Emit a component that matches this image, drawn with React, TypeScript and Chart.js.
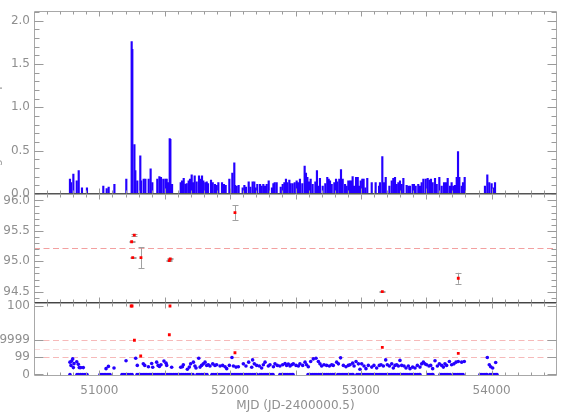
import React, { useEffect, useRef } from 'react';
import { Chart, registerables } from 'chart.js';

Chart.register(...registerables);

// ---------- axes ----------
const X_MIN = 50500;
const X_MAX = 54500;
const X_TICKS = [51000, 52000, 53000, 54000];
const X_TITLE = 'MJD (JD-2400000.5)';
const TOP_TITLE = 'Integrated Flux (ph cm\u207B\u00B2 s\u207B\u00B9)';

// ---------- top panel: flux bars ----------
const FLUX_TICKS = [0, 0.5, 1.0, 1.5, 2.0];
const FLUX_MJD = [
  50775, 50783, 50801, 50827, 50842, 50867, 50905,
  51030, 51056, 51071, 51115, 51206, 51247, 51252, 51268, 51275, 51290, 51313, 51319, 51339, 51352,
  51377, 51392, 51405, 51443, 51459, 51471, 51489, 51505, 51515, 51525, 51538, 51543, 51556,
  51622, 51632, 51645, 51658, 51668, 51683, 51693, 51706, 51716, 51729, 51744, 51762, 51772, 51785,
  51795, 51810, 51821, 51831, 51854, 51867, 51884, 51897, 51910, 51938, 51953, 51966, 51994, 52017,
  52032, 52037, 52050, 52065, 52096, 52109, 52121, 52142, 52155, 52172, 52185, 52195, 52208, 52229,
  52241, 52254, 52267, 52280, 52295, 52320, 52331, 52341, 52356, 52387, 52402, 52415, 52427, 52438,
  52453, 52463, 52478, 52494, 52509, 52519, 52534, 52552, 52570, 52580, 52591, 52603, 52616, 52631,
  52652, 52664, 52677, 52687, 52708, 52728, 52743, 52754, 52764, 52777, 52797, 52810, 52820, 52835,
  52848, 52861, 52879, 52891, 52904, 52917, 52930, 52937, 52948, 52963, 52976, 52986, 52999, 53011,
  53021, 53034, 53049, 53083, 53113, 53139, 53146, 53164, 53177, 53190, 53218, 53236, 53248, 53261,
  53274, 53287, 53299, 53312, 53325, 53350, 53363, 53376, 53396, 53406, 53419, 53439, 53452, 53465,
  53478, 53496, 53511, 53524, 53536, 53549, 53567, 53580, 53600, 53618, 53636, 53651, 53664, 53682,
  53694, 53707, 53720, 53733, 53743, 53753, 53771, 53781, 53794, 53949, 53967, 53982, 54000, 54013,
  54026,
];
const FLUX_VAL = [
  0.17, 0.13, 0.23, 0.15, 0.27, 0.07, 0.07,
  0.09, 0.06, 0.08, 0.11, 0.17, 1.76, 1.67, 0.57, 0.27, 0.15, 0.44, 0.15, 0.17, 0.17,
  0.17, 0.29, 0.13, 0.17, 0.20, 0.19, 0.17, 0.17, 0.17, 0.13, 0.64, 0.63, 0.11,
  0.13, 0.15, 0.18, 0.11, 0.12, 0.15, 0.17, 0.22, 0.13, 0.21, 0.14, 0.21, 0.17, 0.21,
  0.15, 0.13, 0.14, 0.12, 0.16, 0.13, 0.11, 0.10, 0.13, 0.13, 0.11, 0.10, 0.17, 0.24,
  0.36, 0.10, 0.09, 0.10, 0.07, 0.10, 0.08, 0.14, 0.08, 0.14, 0.14, 0.07, 0.11, 0.11,
  0.09, 0.11, 0.09, 0.11, 0.15, 0.07, 0.12, 0.13, 0.13, 0.08, 0.11, 0.13, 0.17, 0.13,
  0.16, 0.12, 0.12, 0.13, 0.15, 0.13, 0.17, 0.12, 0.32, 0.24, 0.19, 0.14, 0.17, 0.11,
  0.14, 0.27, 0.09, 0.18, 0.09, 0.12, 0.19, 0.17, 0.15, 0.11, 0.13, 0.17, 0.14, 0.17,
  0.28, 0.17, 0.11, 0.09, 0.15, 0.15, 0.15, 0.20, 0.09, 0.19, 0.19, 0.09, 0.15, 0.17,
  0.17, 0.07, 0.18, 0.13, 0.13, 0.09, 0.13, 0.43, 0.13, 0.19, 0.09, 0.15, 0.18, 0.19,
  0.11, 0.13, 0.15, 0.11, 0.18, 0.10, 0.09, 0.09, 0.11, 0.11, 0.09, 0.11, 0.09, 0.13,
  0.17, 0.17, 0.18, 0.16, 0.17, 0.13, 0.18, 0.11, 0.19, 0.09, 0.13, 0.13, 0.18, 0.09,
  0.13, 0.09, 0.10, 0.19, 0.49, 0.19, 0.09, 0.13, 0.19, 0.09, 0.22, 0.13, 0.12, 0.07,
  0.13,
];

// ---------- middle panel ----------
const MID_TICKS = [94.5, 95.0, 95.5, 96.0];
const MID_MJD = [51247, 51255, 51267, 51318, 51535, 51542, 52037, 53164, 53745];
const MID_VAL = [95.32, 95.06, 95.43, 95.06, 95.01, 95.04, 95.80, 94.50, 94.72];
const MID_ERR = [0.01, 0.01, 0.01, 0.17, 0.01, 0.01, 0.12, 0.01, 0.09];
const MID_MEAN = 95.22;

// ---------- bottom panel ----------
const BOT_TICK_VALUES = [0, 1, 2, 4];
const BOT_TICK_LABELS = ['0', '99', '9999', '100'];
const BOT_LEVELS = [1, 1.5, 2];
const BOT_ZERO_MJD = [
  50775, 50829, 50843, 50858, 50874, 50890, 50905,
  51005, 51020, 51036, 51050, 51066, 51081,
  51173, 51188, 51204, 51219, 51235, 51250,
  51288, 51303, 51318, 51334, 51349, 51364, 51380, 51395, 51410, 51426, 51441, 51456, 51472, 51487,
  51502, 51518, 51533, 51548, 51564, 51579, 51594, 51610, 51625, 51640, 51656, 51671, 51686, 51701, 51716,
  51747, 51762, 51778, 51793, 51808, 51823,
  51861, 51876, 51892, 51907, 51922, 51938, 51953, 51968, 51984, 51999, 52014, 52030, 52045, 52060,
  52076, 52091, 52106, 52122, 52137, 52152, 52168, 52183, 52198, 52206,
  52228, 52243, 52259, 52274, 52289, 52305, 52320, 52328,
  52381, 52396, 52412, 52427, 52442, 52458, 52473, 52481,
  52596, 52611, 52627, 52642, 52657, 52673, 52688, 52703, 52719, 52734, 52749, 52765, 52780, 52795, 52802,
  52825, 52840, 52856, 52871, 52886, 52902, 52917, 52932, 52940,
  52970, 52985, 53001, 53016, 53031, 53047, 53062, 53077, 53093, 53108, 53123, 53139, 53154, 53169,
  53185, 53200, 53215, 53231, 53246, 53261, 53277, 53292, 53307, 53323, 53338, 53353, 53369, 53384,
  53399, 53415, 53430, 53445, 53452,
  53513, 53528, 53544, 53551,
  53605, 53620, 53636, 53651, 53666, 53682,
  53705, 53720, 53736, 53751, 53766, 53781,
  53911, 53926, 53942, 53957, 53964,
  53987, 54002, 54018, 54033, 54041,
];
const BOT_SCAT_MJD = [
  50775, 50783, 50788, 50796, 50801, 50806, 50827, 50839, 50846, 50857, 50877,
  51051, 51069, 51112, 51204, 51278, 51290, 51336, 51347, 51375, 51400, 51408, 51438, 51449, 51459,
  51471, 51494, 51510, 51515, 51553, 51622, 51635, 51642, 51673, 51688, 51698, 51719, 51731, 51739,
  51760, 51770, 51782, 51795, 51808, 51821, 51833, 51846, 51867, 51884, 51897, 51923, 51943, 51961,
  51974, 51994, 52014, 52025, 52045, 52063, 52101, 52121, 52142, 52165, 52172, 52185, 52203, 52223,
  52241, 52254, 52267, 52292, 52305, 52331, 52343, 52361, 52381, 52402, 52420, 52432, 52445, 52458,
  52471, 52483, 52504, 52522, 52534, 52555, 52573, 52585, 52598, 52616, 52636, 52657, 52675, 52687,
  52700, 52718, 52738, 52759, 52777, 52789, 52815, 52828, 52845, 52866, 52886, 52904,
  52917, 52937, 52948, 52963, 52981, 52993, 53006, 53024, 53039, 53057, 53083, 53100, 53121, 53141,
  53154, 53172, 53190, 53202, 53218, 53236, 53248, 53261, 53274, 53287, 53299, 53312, 53330, 53345,
  53363, 53376, 53396, 53414, 53432, 53452, 53465, 53478, 53490, 53503, 53521, 53534, 53549, 53567,
  53585, 53600, 53618, 53631, 53643, 53656, 53677, 53694, 53712, 53728, 53745, 53771, 53791,
  53967, 53982, 53993, 54008, 54031,
];
const BOT_SCAT_VAL = [
  0.72, 0.53, 0.78, 0.91, 0.40, 0.63, 0.74, 0.59, 0.40, 0.40, 0.40,
  0.34, 0.47, 0.38, 0.80, 0.95, 0.53, 0.62, 0.53, 0.45, 0.64, 0.42, 0.72, 0.53, 0.47,
  0.57, 0.78, 0.66, 0.53, 0.42, 0.42, 0.45, 0.57, 0.30, 0.43, 0.62, 0.72, 0.49, 0.38,
  0.95, 0.43, 0.53, 0.62, 0.72, 0.53, 0.57, 0.49, 0.62, 0.53, 0.57, 0.49, 0.53, 0.45,
  0.34, 0.53, 0.99, 0.49, 0.43, 0.45, 0.62, 0.49, 0.72, 0.42, 0.85, 0.62, 0.53, 0.49,
  0.38, 0.57, 0.72, 0.49, 0.57, 0.45, 0.62, 0.53, 0.49, 0.57, 0.64, 0.53, 0.61, 0.49,
  0.57, 0.62, 0.53, 0.49, 0.62, 0.53, 0.72, 0.57, 0.45, 0.76, 0.91, 0.95, 0.76, 0.62,
  0.49, 0.57, 0.53, 0.49, 0.57, 0.53, 0.72, 0.62, 0.97, 0.53, 0.45, 0.53,
  0.57, 0.66, 0.49, 0.76, 0.62, 0.30, 0.62, 0.49, 0.34, 0.53, 0.43, 0.53, 0.38, 0.53,
  0.57, 0.49, 0.85, 0.57, 0.49, 0.62, 0.38, 0.53, 0.57, 0.49, 0.82, 0.53, 0.49, 0.38,
  0.49, 0.34, 0.43, 0.38, 0.53, 0.43, 0.62, 0.72, 0.62, 0.57, 0.49, 0.53, 0.34, 0.80,
  0.49, 0.62, 0.53, 0.43, 0.62, 0.53, 0.76, 0.57, 0.62, 0.72, 0.76, 0.72, 0.76,
  0.99, 0.57, 0.45, 0.38, 0.70,
];
const BOT_RED_MJD = [51243, 51250, 51540, 51268, 51535, 51316, 52037, 53164, 53745];
const BOT_RED_VAL = [4.0, 4.0, 4.0, 2.0, 2.32, 1.08, 1.27, 1.58, 1.23];

// ---------- styling ----------
const TEXT_COLOR = '#8f8f8f';
const FONT_FAMILY = 'DejaVu Sans';
const BLUE = '#2400ff';
const RED = '#ff0000';

const pairs = (xs: number[], ys: number[]) => xs.map((x, i) => ({ x, y: ys[i] }));

const fixWidth = (s: any) => { s.width = 34; };

const decorPlugin = {
  id: 'decor',
  beforeDatasetsDraw(chart: any) {
    const ctx = chart.ctx;
    const x = chart.scales.x;
    const yMid = chart.scales.yMid;
    const yBot = chart.scales.yBot;
    ctx.save();
    ctx.lineWidth = 1;
    ctx.setLineDash([6, 3.5]);
    ctx.strokeStyle = '#f3a0a0';
    let py = Math.round(yMid.getPixelForValue(MID_MEAN)) + 0.5;
    ctx.beginPath(); ctx.moveTo(x.left, py); ctx.lineTo(x.right, py); ctx.stroke();
    const levelColors = ['#f6b9b9', '#fadcdc', '#f6b9b9'];
    BOT_LEVELS.forEach((lv, i) => {
      ctx.strokeStyle = levelColors[i];
      py = Math.round(yBot.getPixelForValue(lv)) + 0.5;
      ctx.beginPath(); ctx.moveTo(x.left, py); ctx.lineTo(x.right, py); ctx.stroke();
    });
    ctx.setLineDash([]);
    ctx.strokeStyle = '#a0a0a0';
    MID_MJD.forEach((m, i) => {
      const px = Math.round(x.getPixelForValue(m)) + 0.5;
      const y1 = yMid.getPixelForValue(MID_VAL[i] + MID_ERR[i]);
      const y2 = yMid.getPixelForValue(MID_VAL[i] - MID_ERR[i]);
      ctx.beginPath();
      ctx.moveTo(px, y1); ctx.lineTo(px, y2);
      ctx.moveTo(px - 3, Math.round(y1) + 0.5); ctx.lineTo(px + 3, Math.round(y1) + 0.5);
      ctx.moveTo(px - 3, Math.round(y2) + 0.5); ctx.lineTo(px + 3, Math.round(y2) + 0.5);
      ctx.stroke();
    });
    ctx.restore();
  },
  afterDraw(chart: any) {
    const ctx = chart.ctx;
    const x = chart.scales.x;
    const panels = [
      { s: chart.scales.yTop, major: FLUX_TICKS, minor: 0.1, bottom: '#555555' },
      { s: chart.scales.yMid, major: MID_TICKS, minor: 0.1, bottom: '#444444' },
      { s: chart.scales.yBot, major: BOT_TICK_VALUES, minor: 0, bottom: '#a8a8a8' },
    ];
    ctx.save();
    ctx.lineWidth = 1;
    const L = Math.round(x.left) + 0.5;
    const R = Math.round(x.right) - 0.5;
    panels.forEach((p) => {
      const s = p.s;
      const T = Math.round(s.top) + 0.5;
      const B = Math.round(s.bottom) - 0.5;
      ctx.strokeStyle = '#a8a8a8';
      ctx.beginPath();
      ctx.moveTo(L, T); ctx.lineTo(L, B);
      ctx.moveTo(R, T); ctx.lineTo(R, B);
      ctx.moveTo(L, T); ctx.lineTo(R, T);
      ctx.stroke();
      ctx.strokeStyle = p.bottom;
      ctx.beginPath(); ctx.moveTo(L, B); ctx.lineTo(R, B); ctx.stroke();
      ctx.strokeStyle = '#9a9a9a';
      ctx.beginPath();
      p.major.forEach((v) => {
        const yy = Math.round(s.getPixelForValue(v)) + 0.5;
        ctx.moveTo(L, yy); ctx.lineTo(L + 9, yy);
        ctx.moveTo(R, yy); ctx.lineTo(R - 9, yy);
      });
      if (p.minor > 0) {
        const start = Math.ceil(s.min / p.minor);
        const end = Math.floor(s.max / p.minor);
        for (let k = start; k <= end; k++) {
          const yy = Math.round(s.getPixelForValue(k * p.minor)) + 0.5;
          ctx.moveTo(L, yy); ctx.lineTo(L + 5, yy);
          ctx.moveTo(R, yy); ctx.lineTo(R - 5, yy);
        }
      }
      for (let v = X_MIN + 100; v < X_MAX; v += 100) {
        const xx = Math.round(x.getPixelForValue(v)) + 0.5;
        const len = v % 500 === 0 ? 5 : 3;
        ctx.moveTo(xx, T); ctx.lineTo(xx, T + len);
        ctx.moveTo(xx, B); ctx.lineTo(xx, B - len);
      }
      ctx.stroke();
    });
    // y title of the top panel, mostly cut off by the left edge as in the source
    const yTop = chart.scales.yTop;
    ctx.fillStyle = '#a0a0a0';
    ctx.font = `12px "${FONT_FAMILY}"`;
    ctx.translate(-1, (yTop.top + yTop.bottom) / 2);
    ctx.rotate(-Math.PI / 2);
    ctx.textAlign = 'center';
    ctx.textBaseline = 'alphabetic';
    ctx.fillText(TOP_TITLE, 0, 0);
    ctx.restore();
  },
};

export default function App() {
  const ref = useRef<HTMLCanvasElement | null>(null);
  useEffect(() => {
    if (!ref.current) return;
    Chart.defaults.font.family = FONT_FAMILY;
    Chart.defaults.font.size = 12;
    Chart.defaults.color = TEXT_COLOR;
    const yCommon = {
      type: 'linear',
      position: 'left',
      stack: 'panels',
      offset: false,
      grid: { display: false, drawTicks: false },
      border: { display: false },
      afterFit: fixWidth,
    };
    const chart = new Chart(ref.current, {
      type: 'scatter',
      data: {
        datasets: [
          {
            type: 'bar',
            data: pairs(FLUX_MJD, FLUX_VAL),
            xAxisID: 'x',
            yAxisID: 'yTop',
            backgroundColor: BLUE,
            borderWidth: 0,
            barThickness: 1.5,
            grouped: false,
          },
          {
            data: pairs(MID_MJD, MID_VAL),
            xAxisID: 'x',
            yAxisID: 'yMid',
            pointStyle: 'rect',
            pointRadius: 2,
            pointBorderWidth: 0,
            backgroundColor: RED,
            borderColor: RED,
          },
          {
            data: pairs(BOT_ZERO_MJD, BOT_ZERO_MJD.map(() => 0)),
            xAxisID: 'x',
            yAxisID: 'yBot',
            pointRadius: 1.8,
            pointBorderWidth: 0,
            backgroundColor: BLUE,
            borderColor: BLUE,
          },
          {
            data: pairs(BOT_SCAT_MJD, BOT_SCAT_VAL),
            xAxisID: 'x',
            yAxisID: 'yBot',
            pointRadius: 1.8,
            pointBorderWidth: 0,
            backgroundColor: BLUE,
            borderColor: BLUE,
          },
          {
            data: pairs(BOT_RED_MJD, BOT_RED_VAL),
            xAxisID: 'x',
            yAxisID: 'yBot',
            pointStyle: 'rect',
            pointRadius: 2,
            pointBorderWidth: 0,
            backgroundColor: RED,
            borderColor: RED,
          },
        ],
      } as any,
      options: {
        animation: false,
        responsive: false,
        layout: { padding: { top: 0, left: 0, right: 11, bottom: 0 } },
        plugins: { legend: { display: false }, tooltip: { enabled: false } },
        scales: {
          x: {
            type: 'linear',
            position: 'bottom',
            offset: false,
            min: X_MIN,
            max: X_MAX,
            grid: { display: false, drawTicks: false, offset: false },
            border: { display: false },
            afterBuildTicks: (s: any) => { s.ticks = X_TICKS.map((v) => ({ value: v })); },
            afterFit: (s: any) => { s.height = 43; },
            ticks: { padding: 8, autoSkip: false, maxRotation: 0, callback: (v: any) => String(v) },
            title: { display: true, text: X_TITLE, padding: { top: 2, bottom: 6 } },
          },
          yBot: {
            ...yCommon,
            stackWeight: 75,
            min: -0.09,
            max: 4.16,
            afterBuildTicks: (s: any) => { s.ticks = BOT_TICK_VALUES.map((v) => ({ value: v })); },
            ticks: {
              padding: 4,
              autoSkip: false,
              callback: (v: any) => BOT_TICK_LABELS[BOT_TICK_VALUES.indexOf(Number(v))],
            },
          },
          yMid: {
            ...yCommon,
            stackWeight: 112.7,
            min: 94.31,
            max: 96.107,
            afterBuildTicks: (s: any) => { s.ticks = MID_TICKS.map((v) => ({ value: v })); },
            ticks: { padding: 4, autoSkip: false, callback: (v: any) => Number(v).toFixed(1) },
          },
          yTop: {
            ...yCommon,
            stackWeight: 188.3,
            min: 0,
            max: 2.11,
            afterBuildTicks: (s: any) => { s.ticks = FLUX_TICKS.map((v) => ({ value: v })); },
            ticks: { padding: 4, autoSkip: false, callback: (v: any) => Number(v).toFixed(1) },
          },
        },
      } as any,
      plugins: [decorPlugin],
    });
    return () => chart.destroy();
  }, []);
  return (
    <div style={{ position: 'absolute', left: 0, top: 0, width: 568, height: 419, background: '#fff' }}>
      <canvas ref={ref} width={568} height={419} style={{ width: 568, height: 419 }} />
    </div>
  );
}
